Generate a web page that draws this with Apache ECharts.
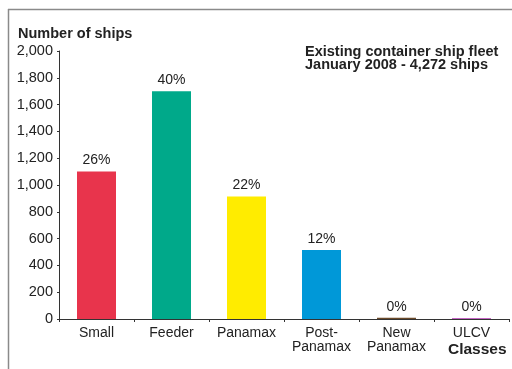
<!DOCTYPE html>
<html><head><meta charset="utf-8">
<script src="https://cdn.jsdelivr.net/npm/echarts@6/dist/echarts.min.js"></script>
<style>html,body{margin:0;padding:0;background:#fff}#c{width:512px;height:369px}</style>
</head><body><div id="c"></div>
<script>
const categories = ['Small', 'Feeder', 'Panamax', 'Post-\nPanamax', 'New\nPanamax', 'ULCV'];
const ships = [1100, 1700, 915, 515, 10, 8];
const shares = ['26%', '40%', '22%', '12%', '0%', '0%'];
const barColors = ['#e8344c', '#00a98a', '#ffec00', '#0098d8', '#6b4a2a', '#c466c4'];
const yTicks = [0, 200, 400, 600, 800, 1000, 1200, 1400, 1600, 1800, 2000];

const chart = echarts.init(document.getElementById('c'), null, {renderer: 'canvas'});
const F = '"Liberation Sans", Arial, sans-serif';
chart.setOption({
  animation: false,
  backgroundColor: '#fff',
  grid: {left: 59, right: 3, top: 51, bottom: 50, containLabel: false},
  graphic: [
    {type: 'line', shape: {x1: 8, y1: 9.5, x2: 512, y2: 9.5}, style: {stroke: '#8a8a8a', lineWidth: 1.5}},
    {type: 'line', shape: {x1: 8.5, y1: 9, x2: 8.5, y2: 369}, style: {stroke: '#8a8a8a', lineWidth: 1.5}},
    {type: 'text', left: 18, top: 26, style: {text: 'Number of ships', font: 'bold 14.5px ' + F, fill: '#222'}},
    {type: 'text', left: 305, top: 44, style: {text: 'Existing container ship fleet\nJanuary 2008 - 4,272 ships', font: 'bold 14.5px ' + F, fill: '#222', lineHeight: 13}},
    {type: 'text', left: 448, top: 342, style: {text: 'Classes', font: 'bold 15.5px ' + F, fill: '#222'}}
  ],
  xAxis: {
    type: 'category',
    data: categories,
    axisLine: {lineStyle: {color: '#333', width: 1}},
    axisTick: {show: true, alignWithLabel: false, length: 3, lineStyle: {color: '#333'}},
    axisLabel: {color: '#222', fontFamily: F, fontSize: 14, lineHeight: 14, margin: 7, interval: 0}
  },
  yAxis: {
    type: 'value',
    min: 0, max: 2000, interval: 200,
    splitLine: {show: false},
    axisLine: {show: true, lineStyle: {color: '#333', width: 1}},
    axisTick: {show: true, length: 2, lineStyle: {color: '#333'}},
    axisLabel: {
      color: '#222', fontFamily: F, fontSize: 14.5, margin: 6,
      formatter: v => yTicks.includes(v) ? v.toLocaleString('en-US') : ''
    }
  },
  series: [{
    type: 'bar',
    barWidth: '52%',
    data: ships.map((v, i) => ({value: v, itemStyle: {color: barColors[i]}})),
    label: {
      show: true, position: 'top', distance: 4,
      color: '#222', fontFamily: F, fontSize: 14,
      formatter: p => shares[p.dataIndex]
    }
  }]
});
</script></body></html>
